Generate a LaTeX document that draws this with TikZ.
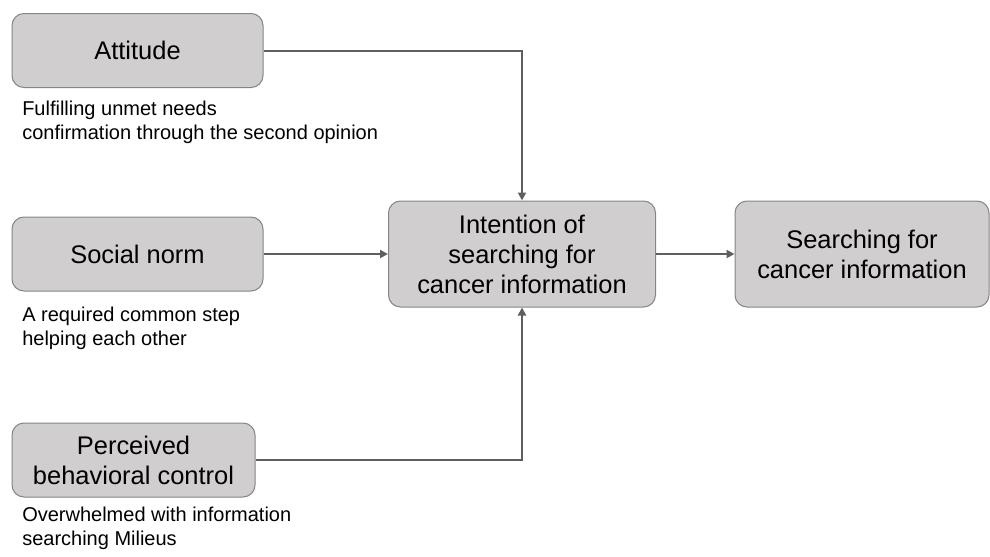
\documentclass[tikz,border=0pt]{standalone}
\usepackage{fontspec}
\setmainfont{Liberation Sans}
\usepackage{tikz}
\usetikzlibrary{arrows.meta,positioning}
\definecolor{BoxFill}{HTML}{D0CECF}
\definecolor{BoxLine}{HTML}{858585}
\definecolor{Link}{HTML}{5F5F5F}
\tikzset{
  stage/.style={draw=BoxLine,fill=BoxFill,line width=.75pt,rounded corners=9pt,align=center,inner sep=2pt,minimum height=55.5pt,font=\fontsize{19.1}{22.5}\selectfont},
  bigstage/.style={stage,minimum height=79.5pt},
  note/.style={align=left,inner sep=0pt,anchor=base west,font=\fontsize{15}{17.6}\selectfont},
  link/.style={-{Triangle[length=6pt,width=6pt]},draw=Link,line width=1.5pt}
}
\begin{document}
\begin{tikzpicture}[x=.75pt,y=-.75pt]
      \useasboundingbox (0,0) rectangle (990,557);
      \node[stage,minimum width=188.25pt] (attitude) at (137.5,50.5) {Attitude};
      \node[stage,minimum width=188.25pt] (norm) at (137.5,254) {Social norm};
      \node[stage,minimum width=182.25pt] (control) at (133.5,460) {Perceived\\behavioral control};
      \node[bigstage,minimum width=200.25pt] (intention) at (522,254) {Intention of\\searching for\\cancer information};
      \node[bigstage,minimum width=190.5pt] (search) at (862,254) {Searching for\\cancer information};
      % notes: base is the last line
      \node[note] (attnote) at (22,139) {Fulfilling unmet needs\\confirmation through the second opinion};
      \node[note] (normnote) at (22,345) {A required common step\\helping each other};
      \node[note] (ctrlnote) at (22,545) {Overwhelmed with information\\searching Milieus};
      \draw[link] (attitude.east) -| (intention.north);
      \draw[link] (norm.east) -- (intention.west);
      \draw[link] (control.east) -| (intention.south);
      \draw[link] (intention.east) -- (search.west);
    \end{tikzpicture}
\end{document}
